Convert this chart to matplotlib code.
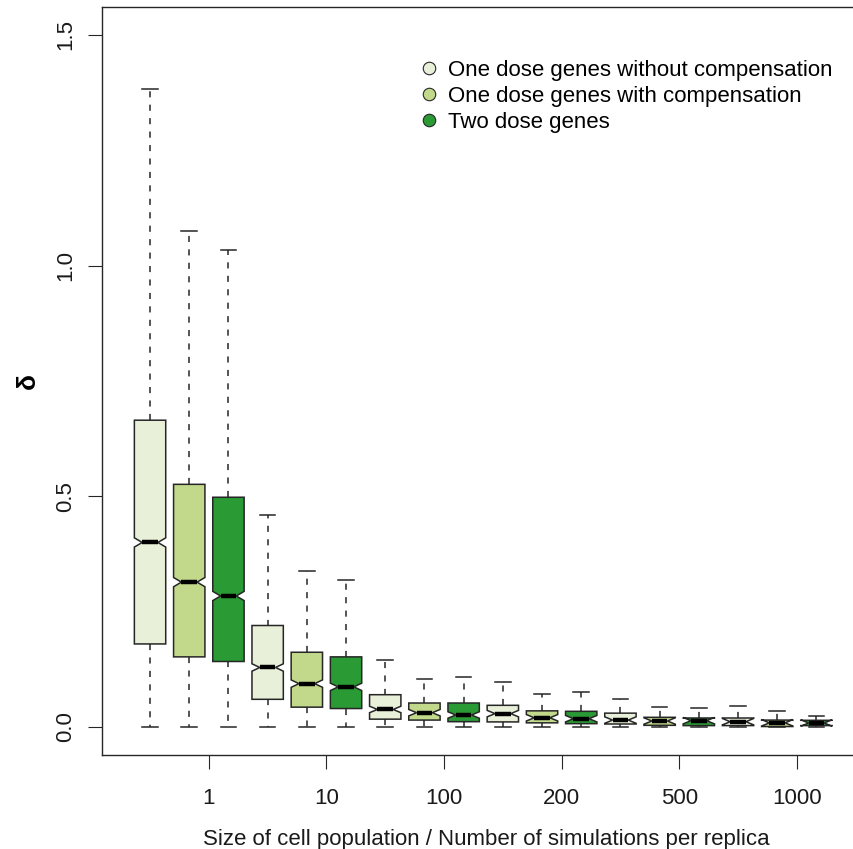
import numpy as np
import matplotlib
matplotlib.use("Agg")
import matplotlib.pyplot as plt
from matplotlib.lines import Line2D

plt.rcParams["font.family"] = ["Liberation Sans", "DejaVu Sans"]

# x groups and series
groups = ["1", "10", "100", "200", "500", "1000"]
series = [
    "One dose genes without compensation",
    "One dose genes with compensation",
    "Two dose genes",
]
colors = ["#E9F0D9", "#C2D98B", "#2A9A35"]

# box statistics, one list per series (one value per group)
whishi = [
    [1.383, 0.460, 0.145, 0.097, 0.061, 0.046],
    [1.075, 0.339, 0.103, 0.071, 0.043, 0.034],
    [1.033, 0.318, 0.109, 0.075, 0.042, 0.0245],
]
q3 = [
    [0.665, 0.220, 0.070, 0.047, 0.030, 0.0195],
    [0.526, 0.162, 0.052, 0.035, 0.021, 0.015],
    [0.498, 0.152, 0.052, 0.034, 0.0195, 0.0145],
]
med = [
    [0.400, 0.129, 0.038, 0.029, 0.015, 0.0115],
    [0.314, 0.094, 0.031, 0.020, 0.013, 0.009],
    [0.284, 0.087, 0.026, 0.018, 0.0137, 0.0087],
]
q1 = [
    [0.180, 0.060, 0.017, 0.011, 0.0065, 0.003],
    [0.152, 0.043, 0.015, 0.009, 0.0036, 0.001],
    [0.142, 0.040, 0.0115, 0.0072, 0.003, 0.003],
]
whislo = [
    [0.0] * 6,
    [0.0] * 6,
    [0.0] * 6,
]
# half height of the notch (median confidence interval)
notch = [0.010, 0.008, 0.007, 0.007, 0.007, 0.007]

yticks = [0.0, 0.5, 1.0, 1.5]

fig = plt.figure(figsize=(8.54, 8.49), dpi=100)
ax = fig.add_axes([0.1197, 0.1111, 0.8923, 0.8803])

stats = []
box_colors = []
for g in range(len(groups)):
    for s in range(len(series)):
        stats.append(dict(
            med=med[s][g], q1=q1[s][g], q3=q3[s][g],
            whislo=whislo[s][g], whishi=whishi[s][g],
            cilo=med[s][g] - notch[g], cihi=med[s][g] + notch[g],
            fliers=[],
        ))
        box_colors.append(colors[s])

positions = np.arange(1, len(stats) + 1)
edge = "#262626"
bp = ax.bxp(
    stats, positions=positions, widths=0.8, shownotches=True,
    patch_artist=True, showfliers=False,
    boxprops=dict(edgecolor=edge, linewidth=1.1),
    whiskerprops=dict(color=edge, linewidth=1.1, linestyle=(0, (4.0, 4.8))),
    capprops=dict(color=edge, linewidth=1.1),
    medianprops=dict(color="black", linewidth=3.2, solid_capstyle="butt"),
)
for patch, c in zip(bp["boxes"], box_colors):
    patch.set_facecolor(c)

ax.set_xlim(-0.22, 19.22)
ax.set_ylim(-0.06, 1.56)

# group labels sit between the 2nd and 3rd box of each triplet
ax.set_xticks(np.arange(len(groups)) * 3 + 2.5, groups)
ax.set_yticks(yticks, [f"{v:.1f}" for v in yticks], rotation=90, va="center")
ax.tick_params(axis="both", length=10, width=0.8, color=edge,
               labelsize=16, labelcolor="#1a1a1a")
ax.tick_params(axis="x", pad=14)
ax.tick_params(axis="y", pad=9)
for sp in ax.spines.values():
    sp.set_color(edge)
    sp.set_linewidth(1.0)

fig.text(486.5 / 854, 1 - 845 / 849,
         "Size of cell population / Number of simulations per replica",
         ha="center", va="baseline", fontsize=16, color="#1a1a1a")
fig.text(28 / 854, 1 - 381 / 849, "δ", rotation=90, ha="center", va="center",
         fontsize=19, fontweight="bold")

handles = [Line2D([], [], marker="o", linestyle="", markersize=9,
                  markerfacecolor=c, markeredgecolor=edge, markeredgewidth=0.8)
           for c in colors]
ax.legend(handles, series, loc="upper left",
          bbox_to_anchor=(420.5 / 854, 1 - 60 / 849),
          bbox_transform=fig.transFigure, frameon=False, fontsize=16.0,
          borderpad=0, borderaxespad=0, handlelength=0.8,
          handletextpad=0.42, labelspacing=0.22)

fig.savefig("out.png", dpi=100)
